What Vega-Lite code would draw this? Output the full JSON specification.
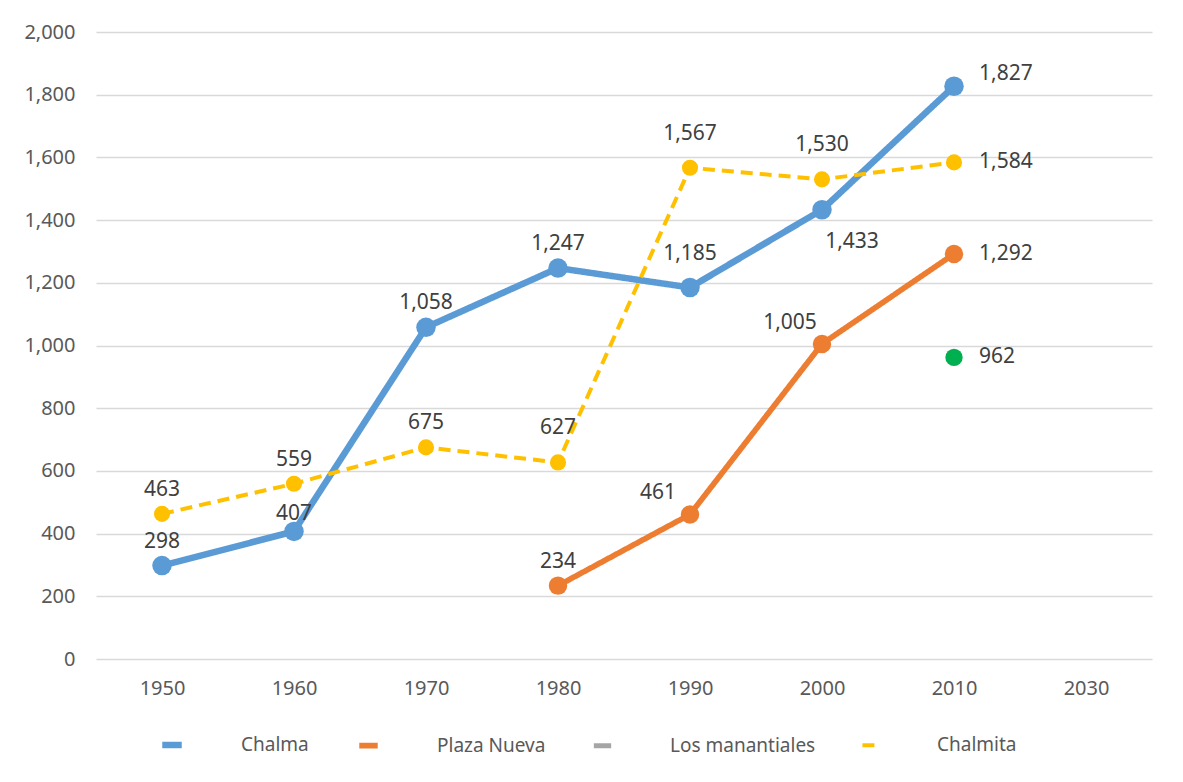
{
  "$schema": "https://vega.github.io/schema/vega-lite/v6.json",
  "width": 1056,
  "height": 627,
  "autosize": {"type": "none"},
  "padding": {"left": 96, "top": 32, "right": 31, "bottom": 123},
  "background": "white",
  "config": {
    "view": {"stroke": null},
    "font": "Noto Sans",
    "axis": {"labelFont": "Noto Sans", "labelFontSize": 20, "labelColor": "#595959", "ticks": false, "domain": false, "title": null},
    "legend": {"labelFont": "Noto Sans", "labelFontSize": 19, "labelColor": "#595959"}
  },
  "data": {
    "values": [
      {"series": "Chalma", "year": "1950", "value": 298},
      {"series": "Chalma", "year": "1960", "value": 407},
      {"series": "Chalma", "year": "1970", "value": 1058},
      {"series": "Chalma", "year": "1980", "value": 1247},
      {"series": "Chalma", "year": "1990", "value": 1185},
      {"series": "Chalma", "year": "2000", "value": 1433},
      {"series": "Chalma", "year": "2010", "value": 1827},
      {"series": "Plaza Nueva", "year": "1980", "value": 234},
      {"series": "Plaza Nueva", "year": "1990", "value": 461},
      {"series": "Plaza Nueva", "year": "2000", "value": 1005},
      {"series": "Plaza Nueva", "year": "2010", "value": 1292},
      {"series": "Los manantiales", "year": "2010", "value": 962},
      {"series": "Chalmita", "year": "1950", "value": 463},
      {"series": "Chalmita", "year": "1960", "value": 559},
      {"series": "Chalmita", "year": "1970", "value": 675},
      {"series": "Chalmita", "year": "1980", "value": 627},
      {"series": "Chalmita", "year": "1990", "value": 1567},
      {"series": "Chalmita", "year": "2000", "value": 1530},
      {"series": "Chalmita", "year": "2010", "value": 1584}
    ]
  },
  "encoding": {
    "x": {"field": "year", "type": "ordinal", "sort": null,
      "scale": {"type": "point", "padding": 0.5, "domain": ["1950", "1960", "1970", "1980", "1990", "2000", "2010", "2030"]},
      "axis": {"labelAngle": 0, "labelPadding": 19, "grid": false}},
    "y": {"field": "value", "type": "quantitative",
      "scale": {"domain": [0, 2000], "nice": false},
      "axis": {"values": [0, 200, 400, 600, 800, 1000, 1200, 1400, 1600, 1800, 2000], "format": ",.0f", "labelPadding": 21, "grid": true, "gridColor": "#D9D9D9", "gridWidth": 1.3}}
  },
  "layer": [
    {
      "mark": {"type": "line", "strokeCap": "butt", "strokeJoin": "round"},
      "encoding": {
        "stroke": {"field": "series", "type": "nominal",
          "scale": {"domain": ["Chalma", "Plaza Nueva", "Los manantiales", "Chalmita"], "range": ["#5B9BD5", "#ED7D31", "#A5A5A5", "#FFC000"]},
          "legend": {"title": null, "orient": "none", "direction": "horizontal", "legendX": 63, "legendY": 700,
            "symbolStrokeWidth": 5, "symbolOpacity": 1, "labelOffset": 56, "columnPadding": 38}},
        "strokeWidth": {"field": "series", "type": "nominal",
          "scale": {"domain": ["Chalma", "Plaza Nueva", "Los manantiales", "Chalmita"], "range": [6.5, 4, 5, 4]}, "legend": null},
        "strokeDash": {"field": "series", "type": "nominal",
          "scale": {"domain": ["Chalma", "Plaza Nueva", "Los manantiales", "Chalmita"], "range": [[1, 0], [1, 0], [1, 0], [12, 7]]}, "legend": null}
      }
    },
    {
      "mark": {"type": "point", "filled": true, "opacity": 1, "shape": "circle"},
      "encoding": {
        "fill": {"field": "series", "type": "nominal",
          "scale": {"domain": ["Chalma", "Plaza Nueva", "Los manantiales", "Chalmita"], "range": ["#5B9BD5", "#ED7D31", "#00B050", "#FFC000"]}, "legend": null},
        "size": {"field": "series", "type": "nominal",
          "scale": {"domain": ["Chalma", "Plaza Nueva", "Los manantiales", "Chalmita"], "range": [380, 260, 140, 130]}, "legend": null}
      }
    },
    {
      "transform": [{"filter": "datum.year < '1990' && !(datum.series == 'Chalmita' && datum.year == '1980') && !(datum.series == 'Chalma' && datum.year == '1960')"}],
      "mark": {"type": "text", "fontSize": 21, "color": "#404040", "dy": -24, "baseline": "middle"},
      "encoding": {"text": {"field": "value", "type": "quantitative", "format": ","}}
    },
    {
      "transform": [{"filter": "datum.series == 'Chalma' && datum.year == '1960'"}],
      "mark": {"type": "text", "fontSize": 21, "color": "#404040", "dy": -17, "baseline": "middle"},
      "encoding": {"text": {"field": "value", "type": "quantitative", "format": ","}}
    },
    {
      "transform": [{"filter": "(datum.series == 'Chalma' && datum.year == '1990') || (datum.series == 'Chalmita' && (datum.year == '1980' || datum.year == '1990' || datum.year == '2000'))"}],
      "mark": {"type": "text", "fontSize": 21, "color": "#404040", "dy": -34, "baseline": "middle"},
      "encoding": {"text": {"field": "value", "type": "quantitative", "format": ","}}
    },
    {
      "transform": [{"filter": "datum.series == 'Plaza Nueva' && (datum.year == '1990' || datum.year == '2000')"}],
      "mark": {"type": "text", "fontSize": 21, "color": "#404040", "dx": -32, "dy": -21, "baseline": "middle"},
      "encoding": {"text": {"field": "value", "type": "quantitative", "format": ","}}
    },
    {
      "transform": [{"filter": "datum.series == 'Chalma' && datum.year == '2000'"}],
      "mark": {"type": "text", "fontSize": 21, "color": "#404040", "dx": 30, "dy": 32, "baseline": "middle"},
      "encoding": {"text": {"field": "value", "type": "quantitative", "format": ","}}
    },
    {
      "transform": [{"filter": "datum.year == '2010' && datum.series != 'Chalma'"}],
      "mark": {"type": "text", "fontSize": 21, "color": "#404040", "dx": 25, "dy": 0, "align": "left", "baseline": "middle"},
      "encoding": {"text": {"field": "value", "type": "quantitative", "format": ","}}
    },
    {
      "transform": [{"filter": "datum.year == '2010' && datum.series == 'Chalma'"}],
      "mark": {"type": "text", "fontSize": 21, "color": "#404040", "dx": 25, "dy": -12, "align": "left", "baseline": "middle"},
      "encoding": {"text": {"field": "value", "type": "quantitative", "format": ","}}
    }
  ]
}
